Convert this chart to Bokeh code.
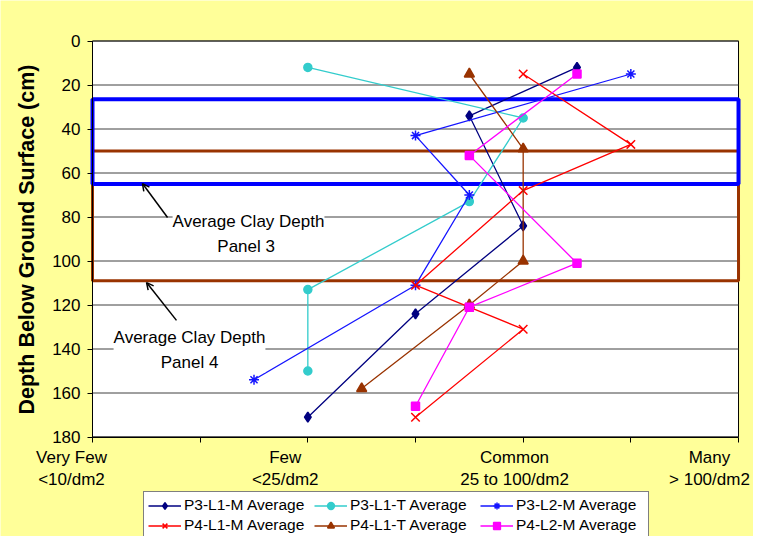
from bokeh.plotting import figure
from bokeh.models import (Range1d, FixedTicker, Label, Arrow, OpenHead,
                          Legend, LegendItem)
from bokeh.embed import file_html
from bokeh.resources import INLINE

# ---------------- data ----------------
y_ticks = [0, 20, 40, 60, 80, 100, 120, 140, 160, 180]
x_ticks = [0, 1, 2, 3, 4, 5, 6]

cat_names = ["Very Few", "Few", "Common", "Many"]
cat_ranges = ["<10/dm2", "<25/dm2", "25 to 100/dm2", "> 100/dm2"]

p3_l1_m_x = [4.5, 3.5, 4, 3, 2]
p3_l1_m_y = [12, 34, 84, 124, 171]

p3_l1_t_x = [2, 4, 3.5, 2, 2]
p3_l1_t_y = [12, 35, 73, 113, 150]

p3_l2_m_x = [5, 3, 3.5, 3, 1.5]
p3_l2_m_y = [15, 43, 70, 111, 154]

p4_l1_m_x = [4, 5, 4, 3, 3.5, 4, 3]
p4_l1_m_y = [15, 47, 68, 111, 121, 131, 171]

p4_l1_t_x = [3.5, 4, 4, 3.5, 2.5]
p4_l1_t_y = [15, 49, 100, 120, 158]

p4_l2_m_x = [4.5, 3.5, 4.5, 3.5, 3]
p4_l2_m_y = [15, 52, 101, 121, 166]

panel3_clay = [26.5, 65]     # top, bottom depth (cm)
panel4_clay = [50, 109]

# ---------------- figure ----------------
SANS = "Liberation Sans, Arial, sans-serif"
W, H = 753, 536
PX_X = 107.67   # px per category unit
PX_Y = 2.2      # px per cm
x0 = -92 / PX_X
y0 = -40.5 / PX_Y

p = figure(width=W, height=H, output_backend="svg", toolbar_location=None,
           x_range=Range1d(x0, x0 + W / PX_X),
           y_range=Range1d(y0 + H / PX_Y, y0),
           min_border=0)
p.border_fill_color = "#FFFF99"
p.background_fill_color = "#FFFF99"
p.outline_line_color = None
p.xgrid.visible = False
p.ygrid.visible = False

# plot area
p.quad(left=[x_ticks[0]], right=[x_ticks[-1]], top=[y_ticks[0]], bottom=[y_ticks[-1]],
       fill_color="white", line_color="black", line_width=1)
p.segment(x0=[x_ticks[0]] * len(y_ticks), x1=[x_ticks[-1]] * len(y_ticks),
          y0=y_ticks, y1=y_ticks, line_color="#404040", line_width=1)

# axes fixed at the plot-area edges
p.yaxis.fixed_location = x_ticks[0]
p.yaxis.bounds = (y_ticks[0], y_ticks[-1])
p.yaxis.ticker = FixedTicker(ticks=y_ticks)
p.yaxis.major_tick_out = 5
p.yaxis.major_tick_in = 0
p.yaxis.minor_tick_line_color = None
p.yaxis.axis_line_color = "black"
p.yaxis.major_label_text_font = SANS
p.yaxis.major_label_text_font_size = "17px"
p.yaxis.major_label_text_color = "black"
p.yaxis.major_label_standoff = 7
p.yaxis.axis_label = "Depth Below Ground Surface (cm)"
p.yaxis.axis_label_text_font = SANS
p.yaxis.axis_label_text_font_size = "21.5px"
p.yaxis.axis_label_text_font_style = "bold"
p.yaxis.axis_label_text_color = "black"
p.yaxis.axis_label_standoff = 10

p.xaxis.fixed_location = y_ticks[-1]
p.xaxis.bounds = (x_ticks[0], x_ticks[-1])
p.xaxis.ticker = FixedTicker(ticks=x_ticks)
p.xaxis.major_tick_out = 5
p.xaxis.major_tick_in = 0
p.xaxis.minor_tick_line_color = None
p.xaxis.axis_line_color = "black"
p.xaxis.major_label_text_color = None

# clay depth boxes
p.quad(left=[x_ticks[0]], right=[x_ticks[-1]], top=[panel4_clay[0]], bottom=[panel4_clay[1]],
       fill_color=None, line_color="#993300", line_width=3)
p.quad(left=[x_ticks[0]], right=[x_ticks[-1]], top=[panel3_clay[0]], bottom=[panel3_clay[1]],
       fill_color=None, line_color="#0000FF", line_width=4)

# series
series = [
    ("P3-L1-M Average", p3_l1_m_x, p3_l1_m_y, "#000080", "diamond", 10),
    ("P3-L1-T Average", p3_l1_t_x, p3_l1_t_y, "#33CCCC", "circle", 8),
    ("P3-L2-M Average", p3_l2_m_x, p3_l2_m_y, "#1515FF", "asterisk", 10),
    ("P4-L1-M Average", p4_l1_m_x, p4_l1_m_y, "#FF0000", "x", 12),
    ("P4-L1-T Average", p4_l1_t_x, p4_l1_t_y, "#993300", "triangle", 10),
    ("P4-L2-M Average", p4_l2_m_x, p4_l2_m_y, "#FF00FF", "square", 8),
]
items = []
for name, xs, ys, col, mk, sz in series:
    ln = p.line(xs, ys, line_color=col, line_width=1.3)
    sc = p.scatter(xs, ys, marker=mk, size=sz, fill_color=col, line_color=col,
                   line_width=1.5)
    items.append(LegendItem(label=name, renderers=[ln, sc]))

legend = Legend(items=items, orientation="horizontal", ncols=3,
                location=(143, -3), border_line_color="black",
                border_line_width=1, background_fill_color="white",
                background_fill_alpha=1.0,
                label_text_font=SANS, label_text_font_size="15.5px",
                label_text_color="black", glyph_width=33, glyph_height=17,
                label_height=17, label_width=128, label_standoff=3,
                spacing=2, padding=4, margin=0)
legend.padding = 4
p.add_layout(legend, "center")

# annotations
p.add_layout(Label(x=1.449, y=87.7, text="Average Clay Depth\nPanel  3",
                   text_align="center", text_baseline="middle",
                   text_font=SANS, text_font_size="17px", text_color="black",
                   text_line_height=1.35,
                   background_fill_color="white", background_fill_alpha=1.0))
p.add_layout(Label(x=0.901, y=140.5, text="Average Clay Depth\nPanel 4",
                   text_align="center", text_baseline="middle",
                   text_font=SANS, text_font_size="17px", text_color="black",
                   text_line_height=1.35,
                   background_fill_color="white", background_fill_alpha=1.0))
p.add_layout(Arrow(x_start=0.697, y_start=80.2, x_end=0.464, y_end=64.8,
                   line_color="black", line_width=1.5,
                   end=OpenHead(size=7, line_color="black", line_width=1.5)))
p.add_layout(Arrow(x_start=0.780, y_start=127, x_end=0.502, y_end=109.8,
                   line_color="black", line_width=1.5,
                   end=OpenHead(size=7, line_color="black", line_width=1.5)))

# category labels below the axis
cat_pos = [-0.195, 1.79, 3.92, 5.73]
for cx, nm, rg in zip(cat_pos, cat_names, cat_ranges):
    p.add_layout(Label(x=cx, y=189.5, text=nm, text_align="center",
                       text_baseline="middle", text_font=SANS,
                       text_font_size="17px", text_color="black"))
    p.add_layout(Label(x=cx, y=199.5, text=rg, text_align="center",
                       text_baseline="middle", text_font=SANS,
                       text_font_size="17px", text_color="black"))

open("out.html", "w").write(file_html(p, INLINE))
